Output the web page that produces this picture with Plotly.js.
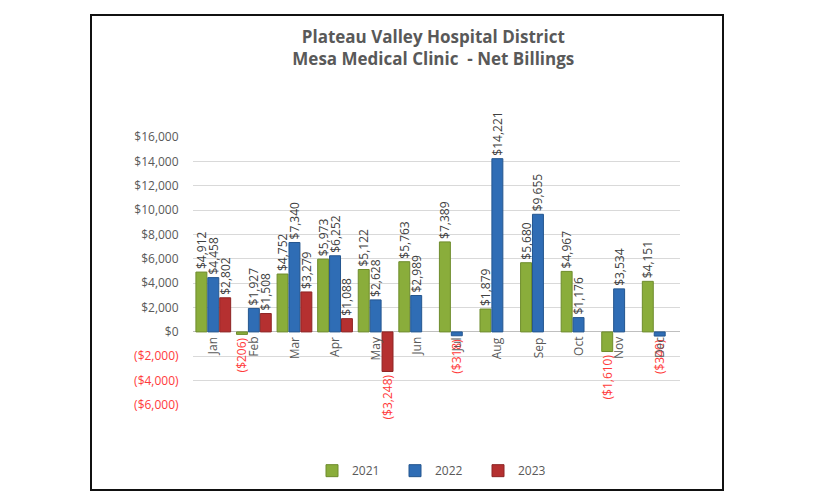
<!DOCTYPE html>
<html><head><meta charset="utf-8">
<script src="https://cdn.plot.ly/plotly-3.0.1.min.js"></script>
<style>
html,body{margin:0;padding:0;background:#fff;}
#frame{position:absolute;left:90px;top:14px;width:630px;height:473px;border:2px solid #111;pointer-events:none;}
#chart{position:absolute;left:0;top:0;width:816px;height:504px;}
</style></head>
<body>
<div id="chart"></div>
<div id="frame"></div>
<script>
const months = ['Jan','Feb','Mar','Apr','May','Jun','Jul','Aug','Sep','Oct','Nov','Dec'];
const y2021 = [4912, -206, 4752, 5973, 5122, 5763, 7389, 1879, 5680, 4967, -1610, 4151];
const y2022 = [4458, 1927, 7340, 6252, 2628, 2989, -318, 14221, 9655, 1176, 3534, -340];
const y2023 = [2802, 1508, 3279, 1088, -3248, null, null, null, null, null, null, null];
const tickVals = [-6000,-4000,-2000,0,2000,4000,6000,8000,10000,12000,14000,16000];

function money(v){
  const s = '$' + Math.abs(v).toLocaleString('en-US');
  return v < 0 ? '(' + s + ')' : s;
}
const tickText = tickVals.map(v => v < 0 ? '<span style="color:#ff3b3b">' + money(v) + '</span>' : money(v));

function series(name, vals, color, line){
  return {
    type:'bar', name:name, x:months, y:vals,
    marker:{color:color, line:{color:line, width:1}},
    text: vals.map(v => v === null ? '' : money(v)),
    textposition:'outside', textangle:-90, constraintext:'none', cliponaxis:false,
    outsidetextfont:{family:'Open Sans, sans-serif', size:12, color: vals.map(v => v !== null && v < 0 ? '#ff3b3b' : '#404040')},
    hoverinfo:'x+y'
  };
}
const data = [
  series('2021', y2021, '#8aad3b', '#6e8c2c'),
  series('2022', y2022, '#2f6db5', '#24568f'),
  series('2023', y2023, '#b53030', '#8e2424')
];
const annotations = months.map(m => ({
  x:m, y:0, xref:'x', yref:'y', text:m, showarrow:false, textangle:-90,
  yanchor:'top', xanchor:'center', yshift:-3,
  font:{family:'Open Sans, sans-serif', size:12, color:'#595959'}
}));
const layout = {
  width:816, height:504,
  margin:{l:193, r:136, t:137, b:99},
  paper_bgcolor:'rgba(0,0,0,0)', plot_bgcolor:'#fff',
  title:{text:'<b>Plateau Valley Hospital District<br>Mesa Medical Clinic  - Net Billings</b>',
    x:0.531, xanchor:'center', y:0.915, yanchor:'top',
    font:{family:'Open Sans, sans-serif', size:17, color:'#595959'}},
  barmode:'group', bargap:0.12, bargroupgap:0.08,
  xaxis:{showticklabels:false, showgrid:false, zeroline:false, showline:false, ticks:''},
  yaxis:{range:[-6000,16000], tickvals:tickVals, ticktext:tickText,
    showgrid:true, gridcolor:'#d9d9d9', gridwidth:1, zeroline:true, zerolinecolor:'#bfbfbf', zerolinewidth:1,
    showline:false, ticks:'outside', ticklen:11, tickcolor:'rgba(0,0,0,0)',
    tickfont:{family:'Open Sans, sans-serif', size:12, color:'#595959'}},
  showlegend:true,
  legend:{orientation:'h', x:0.5, xanchor:'center', y:-0.245, yanchor:'middle',
    font:{family:'Open Sans, sans-serif', size:12, color:'#595959'}, itemwidth:30, entrywidth:38},
  annotations:annotations
};
Plotly.newPlot('chart', data, layout, {displayModeBar:false, staticPlot:true});
</script>
</body></html>
